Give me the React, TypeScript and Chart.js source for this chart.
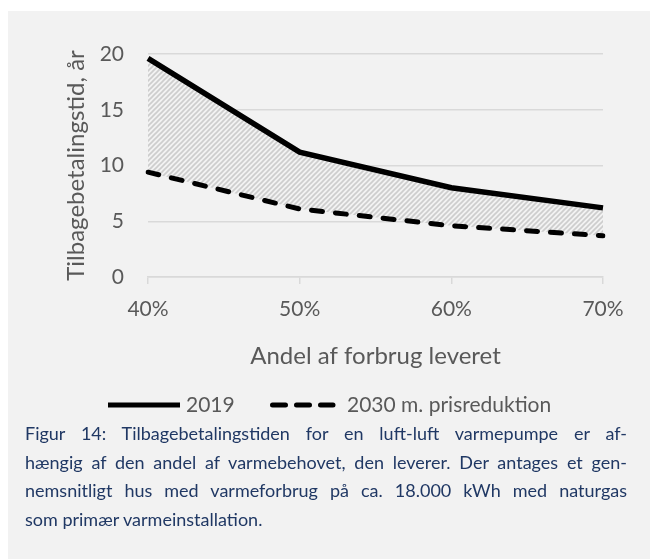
import React, { useEffect, useRef } from "react";
import { Chart, registerables } from "chart.js";

Chart.register(...registerables);

const categories = ["40%", "50%", "60%", "70%"];
const series2019 = [19.6, 11.2, 8.0, 6.2];
const series2030 = [9.4, 6.1, 4.6, 3.7];
const seriesNames = ["2019", "2030 m. prisreduktion"];
const yMin = 0;
const yMax = 20;
const yStep = 5;
const xTitle = "Andel af forbrug leveret";
const yTitle = "Tilbagebetalingstid, år";
const captionLines = [
  "Figur 14: Tilbagebetalingstiden for en luft-luft varmepumpe er af-",
  "hængig af den andel af varmebehovet, den leverer. Der antages et gen-",
  "nemsnitligt hus med varmeforbrug på ca. 18.000 kWh med naturgas",
  "som primær varmeinstallation.",
];

const FONT = "Lato, 'Open Sans', sans-serif";
const TEXT = "#595959";
const GRID = "#d9d9d9";
const BG = "#f2f2f2";

function makeHatch(): CanvasPattern | string {
  const s = 5;
  const c = document.createElement("canvas");
  c.width = s;
  c.height = s;
  const ctx = c.getContext("2d");
  if (!ctx) return "#d8d8d8";
  ctx.fillStyle = BG;
  ctx.fillRect(0, 0, s, s);
  ctx.strokeStyle = "#cdcdcd";
  ctx.lineWidth = 1.6;
  ctx.beginPath();
  ctx.moveTo(-1, s + 1);
  ctx.lineTo(s + 1, -1);
  ctx.moveTo(-1, 1);
  ctx.lineTo(1, -1);
  ctx.moveTo(s - 1, s + 1);
  ctx.lineTo(s + 1, s - 1);
  ctx.stroke();
  const p = ctx.createPattern(c, "repeat");
  return p || "#d8d8d8";
}

const legendPlugin = {
  id: "customLegend",
  afterDraw(chart: any) {
    const ctx = chart.ctx;
    const y = 394;
    ctx.save();
    ctx.strokeStyle = "#000";
    ctx.lineWidth = 5;
    ctx.lineCap = "butt";
    ctx.setLineDash([]);
    ctx.beginPath();
    ctx.moveTo(100, y);
    ctx.lineTo(172, y);
    ctx.stroke();
    ctx.lineCap = "round";
    ctx.setLineDash([13, 11]);
    ctx.beginPath();
    ctx.moveTo(264.5, y);
    ctx.lineTo(325, y);
    ctx.stroke();
    ctx.setLineDash([]);
    ctx.fillStyle = TEXT;
    ctx.font = "21px " + FONT;
    ctx.textBaseline = "middle";
    ctx.textAlign = "left";
    ctx.fillText(seriesNames[0], 178, y);
    ctx.fillText(seriesNames[1], 339, y);
    ctx.restore();
  },
};

function ChartBox() {
  const ref = useRef<HTMLCanvasElement | null>(null);
  useEffect(() => {
    if (!ref.current) return;
    const hatch = makeHatch();
    const chart = new Chart(ref.current, {
      type: "line",
      data: {
        labels: categories,
        datasets: [
          {
            label: seriesNames[0],
            data: series2019,
            borderColor: "#000",
            borderWidth: 5.5,
            pointRadius: 0,
            tension: 0,
            fill: "+1",
            backgroundColor: hatch as any,
            order: 1,
          },
          {
            label: seriesNames[1],
            data: series2030,
            borderColor: "#000",
            borderWidth: 5,
            borderDash: [11, 13],
            borderCapStyle: "round",
            pointRadius: 0,
            tension: 0,
            fill: false,
            order: 0,
          },
        ],
      },
      options: {
        responsive: false,
        animation: false,
        events: [],
        layout: { padding: { left: 0, right: 47, top: 43, bottom: 70 } },
        plugins: {
          legend: { display: false },
          tooltip: { enabled: false },
        },
        scales: {
          x: {
            type: "category",
            offset: false,
            grid: {
              display: true,
              drawOnChartArea: false,
              drawTicks: true,
              tickLength: 7,
              color: GRID,
              lineWidth: 1.5,
            },
            border: { display: true, color: GRID, width: 1.5 },
            ticks: {
              color: TEXT,
              font: { family: FONT, size: 21 },
              padding: 13,
              maxRotation: 0,
            },
            title: {
              display: true,
              text: xTitle,
              color: TEXT,
              font: { family: FONT, size: 24 },
              padding: { top: 0, bottom: 0 },
            },
            afterFit: (scale: any) => {
              scale.height = 94;
            },
          },
          y: {
            min: yMin,
            max: yMax,
            grid: {
              color: GRID,
              lineWidth: 1.5,
              drawTicks: false,
            },
            border: { display: false },
            ticks: {
              stepSize: yStep,
              color: TEXT,
              font: { family: FONT, size: 21 },
              padding: 24,
            },
            title: {
              display: true,
              text: yTitle,
              color: TEXT,
              font: { family: FONT, size: 24 },
              padding: { top: 54, bottom: 0 },
            },
            afterFit: (scale: any) => {
              scale.width = 140;
            },
          },
        },
      },
      plugins: [legendPlugin],
    });
    return () => chart.destroy();
  }, []);
  return <canvas ref={ref} width={642} height={430} style={{ display: "block" }} />;
}

export default function App() {
  return (
    <div
      style={{
        position: "absolute",
        left: 8,
        top: 11,
        width: 642,
        height: 548,
        background: BG,
        overflow: "hidden",
      }}
    >
      <ChartBox />
      <div
        style={{
          position: "absolute",
          left: 17,
          top: 408,
          width: 602,
          fontFamily: FONT,
          fontSize: 18,
          lineHeight: "28.5px",
          color: "#203864",
        }}
      >
        {captionLines.map((line, i) => (
          <div
            key={i}
            style={{
              textAlign: i < captionLines.length - 1 ? "justify" : "left",
              textAlignLast: i < captionLines.length - 1 ? "justify" : "left",
            }}
          >
            {line}
          </div>
        ))}
      </div>
    </div>
  );
}
